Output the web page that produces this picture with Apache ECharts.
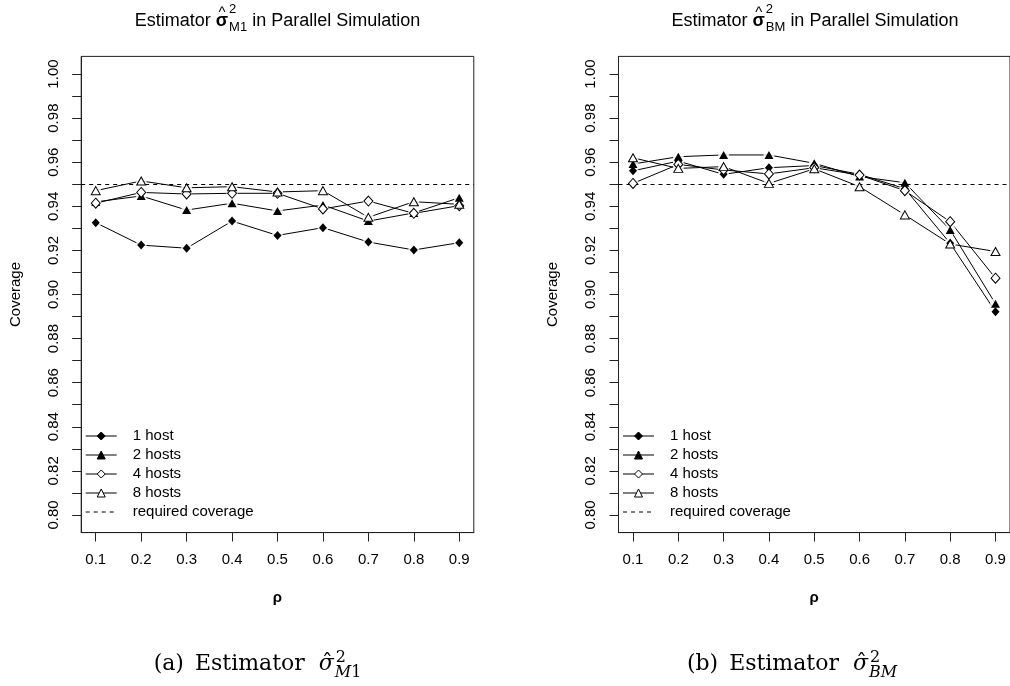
<!DOCTYPE html>
<html><head><meta charset="utf-8">
<script src="https://cdn.jsdelivr.net/npm/echarts@6/dist/echarts.min.js"></script>
<style>html,body{margin:0;padding:0;background:#fff}#c{width:1010px;height:686px}</style>
</head><body><div id="c"></div>
<script>
// ---------- data ----------
const rho = [0.1, 0.2, 0.3, 0.4, 0.5, 0.6, 0.7, 0.8, 0.9];
const seriesNames = ['1 host', '2 hosts', '4 hosts', '8 hosts'];
const refName = 'required coverage';
const requiredCoverage = 0.95;

// panel (a): estimator sigma^2_M1
const host1_M1 = [0.9326, 0.9224, 0.9210, 0.9333, 0.9268, 0.9303, 0.9238, 0.9202, 0.9235];
const host2_M1 = [0.9420, 0.9447, 0.9383, 0.9414, 0.9379, 0.9406, 0.9333, 0.9370, 0.9439];
const host4_M1 = [0.9414, 0.9463, 0.9456, 0.9459, 0.9459, 0.9388, 0.9424, 0.9368, 0.9403];
const host8_M1 = [0.9471, 0.9515, 0.9484, 0.9489, 0.9465, 0.9471, 0.9350, 0.9421, 0.9409];

// panel (b): estimator sigma^2_BM
const host1_BM = [0.9561, 0.9605, 0.9545, 0.9575, 0.9585, 0.9545, 0.9480, 0.9232, 0.8922];
const host2_BM = [0.9592, 0.9625, 0.9633, 0.9633, 0.9595, 0.9535, 0.9507, 0.9293, 0.8958];
const host4_BM = [0.9504, 0.9590, 0.9565, 0.9547, 0.9575, 0.9542, 0.9471, 0.9330, 0.9074];
const host8_BM = [0.9620, 0.9572, 0.9580, 0.9504, 0.9570, 0.9489, 0.9361, 0.9229, 0.9195];

// tick labels
const xTickValues = [0.1, 0.2, 0.3, 0.4, 0.5, 0.6, 0.7, 0.8, 0.9];
const yTickValues = [0.80, 0.81, 0.82, 0.83, 0.84, 0.85, 0.86, 0.87, 0.88, 0.89, 0.90,
                     0.91, 0.92, 0.93, 0.94, 0.95, 0.96, 0.97, 0.98, 0.99, 1.00];
const yLabelValues = [0.80, 0.82, 0.84, 0.86, 0.88, 0.90, 0.92, 0.94, 0.96, 0.98, 1.00];

// ---------- styling ----------
const SANS = '"Liberation Sans", Arial, Helvetica, sans-serif';
const SERIF = '"DejaVu Serif", "Liberation Serif", serif';
const markers = [
  { symbol: 'diamond',  size: [8, 9],  fill: '#000', bw: 0 },
  { symbol: 'triangle', size: [9, 8],  fill: '#000', bw: 0 },
  { symbol: 'diamond',  size: [9, 10], fill: '#fff', bw: 1 },
  { symbol: 'triangle', size: [9, 8],  fill: '#fff', bw: 1 }
];
const panels = [
  { data: [host1_M1, host2_M1, host4_M1, host8_M1], left: 81.2 },
  { data: [host1_BM, host2_BM, host4_BM, host8_BM], left: 618.5 }
];
const gridW = 392.6, gridTop = 56.4, gridH = 476.2;

const grid = [], xAxis = [], yAxis = [], series = [], legend = [];
panels.forEach((p, g) => {
  grid.push({ left: p.left, top: gridTop, width: gridW, height: gridH, show: true,
    borderColor: '#222', borderWidth: 1, backgroundColor: 'transparent', containLabel: false });
  xAxis.push({
    type: 'value', gridIndex: g, min: 0.068, max: 0.932,
    axisLine: { show: true, lineStyle: { color: '#222', width: 1 } },
    axisTick: { show: true, customValues: xTickValues, length: 9, lineStyle: { color: '#222', width: 1 } },
    axisLabel: { customValues: xTickValues, formatter: v => v.toFixed(1), margin: 20,
      fontSize: 15, color: '#000', fontFamily: SANS },
    splitLine: { show: false },
    name: 'ρ', nameLocation: 'middle', nameGap: 58,
    nameTextStyle: { fontSize: 15, fontWeight: 'bold', color: '#000', fontFamily: SANS }
  });
  yAxis.push({
    type: 'value', gridIndex: g, min: 0.792, max: 1.008,
    axisLine: { show: true, lineStyle: { color: '#222', width: 1 } },
    axisTick: { show: true, customValues: yTickValues, length: 9, lineStyle: { color: '#222', width: 1 } },
    axisLabel: { customValues: yLabelValues, formatter: v => v.toFixed(2), rotate: 90, margin: 20,
      fontSize: 15, color: '#000', fontFamily: SANS },
    splitLine: { show: false },
    name: 'Coverage', nameLocation: 'middle', nameGap: 58,
    nameTextStyle: { fontSize: 15, color: '#000', fontFamily: SANS }
  });
  // reference line
  series.push({
    type: 'line', name: refName, xAxisIndex: g, yAxisIndex: g, data: [],
    symbol: 'none', lineStyle: { color: '#000', width: 1, type: [4, 4] },
    markLine: { silent: true, symbol: ['none', 'none'], label: { show: false },
      lineStyle: { color: '#000', width: 1, type: [4, 4] },
      data: [{ yAxis: requiredCoverage }] },
    z: 1
  });
  p.data.forEach((vals, i) => {
    const pts = rho.map((r, j) => [r, vals[j]]);
    const m = markers[i];
    series.push({
      type: 'line', name: seriesNames[i], xAxisIndex: g, yAxisIndex: g, data: pts,
      symbol: m.symbol, symbolSize: m.size, showSymbol: false,
      lineStyle: { color: '#000', width: 1 },
      itemStyle: { color: m.fill, borderColor: '#000', borderWidth: m.bw },
      z: 2
    });
  });
  p.data.forEach((vals, i) => {
    series.push({
      type: 'scatter', xAxisIndex: g, yAxisIndex: g, data: rho.map((r, j) => [r, vals[j]]),
      symbol: 'circle', symbolSize: 11, itemStyle: { color: '#fff' }, z: 3, silent: true
    });
  });
  p.data.forEach((vals, i) => {
    const m = markers[i];
    series.push({
      type: 'scatter', xAxisIndex: g, yAxisIndex: g, data: rho.map((r, j) => [r, vals[j]]),
      symbol: m.symbol, symbolSize: m.size,
      itemStyle: { color: m.fill, borderColor: '#000', borderWidth: m.bw, opacity: 1 },
      z: 4 + i, silent: true
    });
  });
  legend.push({
    left: p.left + 4, top: 428.5, orient: 'vertical', padding: 0, itemGap: 4,
    itemWidth: 31, itemHeight: 10, selectedMode: false,
    itemStyle: { borderWidth: 1, borderColor: '#000' }, lineStyle: { width: 1, color: '#000' },
    textStyle: { fontSize: 15, color: '#000', fontFamily: SANS, padding: [0, 0, 0, 11] },
    data: seriesNames.concat([{ name: refName, itemStyle: { opacity: 0, color: 'transparent', borderWidth: 0 } }])
  });
});

// ---------- math-like titles & captions (text pieces) ----------
const ctx = document.createElement('canvas').getContext('2d');
function F(size, family, weight, style) { return { size, family, weight: weight || 'normal', style: style || 'normal' }; }
function fs(f) { return f.style + ' ' + f.weight + ' ' + f.size + 'px ' + f.family; }
function tw(t, f) { ctx.font = fs(f); return ctx.measureText(t).width; }
function textEl(t, f, x, baseline, align) {
  return { type: 'text', x: x, y: baseline - 0.35 * f.size, silent: true, z: 100,
    style: { text: t, font: fs(f), fontSize: f.size, fontFamily: f.family, fontWeight: f.weight,
      fontStyle: f.style, fill: '#000', align: align || 'left', verticalAlign: 'middle',
      textAlign: align || 'left', textVerticalAlign: 'middle' } };
}
function runWidth(pcs) { return pcs.reduce((s, p) => s + tw(p.t, p.f), 0); }
function runEls(pcs, x, baseline, out) { pcs.forEach(p => { out.push(textEl(p.t, p.f, x, baseline)); x += tw(p.t, p.f); }); }
function mathLine(cx, baseline, parts) {
  const widths = parts.map(p => p.gap !== undefined ? p.gap :
    p.script ? Math.max(runWidth(p.sup) + (p.supDx || 0), runWidth(p.sub) + (p.subDx || 0)) : tw(p.t, p.f));
  const total = widths.reduce((a, b) => a + b, 0);
  let x = cx - total / 2; const out = [];
  parts.forEach((p, i) => {
    if (p.gap !== undefined) { /* spacing */ }
    else if (p.script) {
      runEls(p.sup, x + (p.supDx || 0), baseline + p.supDy, out);
      runEls(p.sub, x + (p.subDx || 0), baseline + p.subDy, out);
    } else {
      out.push(textEl(p.t, p.f, x, baseline));
      if (p.hat) out.push(textEl(p.hat.t, p.hat.f, x + widths[i] / 2 + (p.hat.dx || 0), baseline + (p.hat.dy || 0), 'center'));
    }
    x += widths[i];
  });
  return out;
}
function titleParts(subText) {
  return [
    { t: 'Estimator ', f: F(18, SANS) },
    { t: 'σ', f: F(18, SANS, 'bold'), hat: { t: '^', f: F(15, SANS), dy: -9 } },
    { script: true, sup: [{ t: '2', f: F(13, SANS) }], sub: [{ t: subText, f: F(13, SANS) }], supDy: -14, subDy: 4.5, supDx: 1, subDx: 1 },
    { t: ' in Parallel Simulation', f: F(18, SANS) }
  ];
}
function captionParts(label, subPieces) {
  return [
    { t: label, f: F(22, SERIF) }, { gap: 11 },
    { t: 'Estimator', f: F(22, SERIF) }, { gap: 14 },
    { t: 'σ', f: F(22, SERIF, 'normal', 'italic'), hat: { t: 'ˆ', f: F(22, SERIF), dx: 1, dy: 0 } },
    { script: true, sup: [{ t: '2', f: F(16, SERIF) }], sub: subPieces, supDy: -8, subDy: 7, supDx: 2, subDx: 1 }
  ];
}
const graphicEls = []
  .concat(mathLine(277.5, 27.5, titleParts('M1')))
  .concat(mathLine(815, 27.5, titleParts('BM')))
  .concat(mathLine(257.5, 671.5, captionParts('(a)', [{ t: 'M', f: F(16, SERIF, 'normal', 'italic') }, { t: '1', f: F(16, SERIF) }])))
  .concat(mathLine(792, 671.5, captionParts('(b)', [{ t: 'BM', f: F(16, SERIF, 'normal', 'italic') }])));

const chart = echarts.init(document.getElementById('c'), null, { renderer: 'canvas' });
chart.setOption({
  animation: false,
  backgroundColor: '#fff',
  grid, xAxis, yAxis, series, legend,
  graphic: { elements: graphicEls }
});
</script>
</body></html>
